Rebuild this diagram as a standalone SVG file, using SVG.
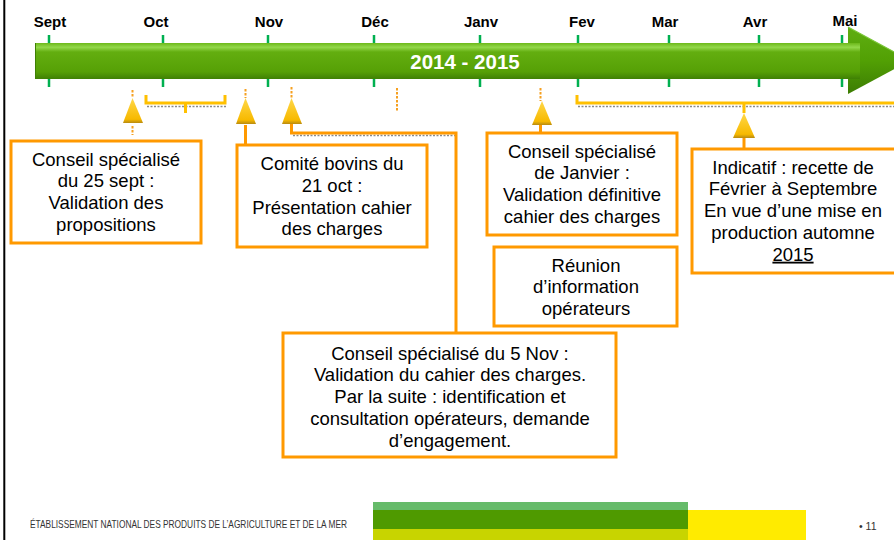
<svg xmlns="http://www.w3.org/2000/svg" width="894" height="540" viewBox="0 0 894 540">
<defs>
<linearGradient id="barG" x1="0" y1="0" x2="0" y2="1">
<stop offset="0" stop-color="#6cb81a"/>
<stop offset="0.12" stop-color="#93d84a"/>
<stop offset="0.25" stop-color="#63ae10"/>
<stop offset="0.8" stop-color="#56a006"/>
<stop offset="1" stop-color="#3f8004"/>
</linearGradient>
<linearGradient id="headG" x1="0" y1="0" x2="0" y2="1">
<stop offset="0" stop-color="#5fae12"/>
<stop offset="0.5" stop-color="#52a004"/>
<stop offset="1" stop-color="#3c7c03"/>
</linearGradient>
<linearGradient id="triG" x1="0" y1="0" x2="0" y2="1">
<stop offset="0" stop-color="#ffd84a"/>
<stop offset="0.85" stop-color="#f7b900"/>
<stop offset="1" stop-color="#b88a10"/>
</linearGradient>
<style>
.month{font-family:"Liberation Sans",Arial,sans-serif;font-weight:bold;font-size:15px;fill:#000;text-anchor:middle}
.box{fill:#fff;stroke:#ff9900;stroke-width:3}
.bt{font-family:"Liberation Sans",Arial,sans-serif;font-size:18.5px;fill:#000;text-anchor:middle}
.tick{stroke:#00b050;stroke-width:2.5}
.dot{stroke:#f5a020;stroke-width:2;stroke-dasharray:2.5 1.5;fill:none}
.conn{stroke:#ff9900;stroke-width:3;fill:none}
.brk{stroke:#ffc000;stroke-width:3;fill:none}
.shadow{stroke:#8a8a8a;stroke-width:1.5;stroke-dasharray:2 1.5;fill:none}
.tri{fill:url(#triG)}
</style>
</defs>
<rect width="894" height="540" fill="#fff"/>
<line x1="4.3" y1="0" x2="4.3" y2="540" stroke="#000" stroke-width="2"/>

<g id="timeline">
<g id="ticks">
<path class="tick" d="M49,35V43M163,35V43M268,35V43M374,35V43M480,35V43M578,35V43M669,35V43M759,35V43M842,35V43"/>
<path class="tick" d="M49,79V87M163,79V87M268,79V87M374,79V87M480,79V87M578,79V87M669,79V87M759,79V87M842,79V87"/>
</g>
<path d="M848,27L910,60.5L848,94Z" fill="url(#headG)"/>
<rect x="35" y="43" width="825" height="36" fill="url(#barG)"/>
<path d="M848,27L910,60.5" stroke="#7cc83a" stroke-width="1.2" fill="none"/>
<line x1="35.5" y1="43" x2="35.5" y2="79" stroke="#3f8004" stroke-width="1"/>
<text x="465" y="68.5" font-family="Liberation Sans,Arial,sans-serif" font-weight="bold" font-size="20.5" fill="#fff" text-anchor="middle">2014 - 2015</text>
<g id="months">
<text class="month" x="50" y="27">Sept</text>
<text class="month" x="156" y="27">Oct</text>
<text class="month" x="269" y="27">Nov</text>
<text class="month" x="375" y="27">Déc</text>
<text class="month" x="481" y="27">Janv</text>
<text class="month" x="582" y="27">Fev</text>
<text class="month" x="665" y="27">Mar</text>
<text class="month" x="755" y="27">Avr</text>
<text class="month" x="845" y="26">Mai</text>
</g>
</g>

<g id="connectors">
<path class="dot" d="M132.5,90V98M245.5,89V98M291.5,87V98M540.5,88V101M397,88V112"/>
<path class="dot" d="M132.5,126V135"/>
<path class="shadow" d="M147,106.5H226M578,106.5H894"/>
<path class="brk" d="M146,95V103H225V95M185.5,103V113"/>
<path class="brk" d="M577,95V103H896M744,103V113"/>
<path class="shadow" d="M293,135.5H457"/>
<path class="conn" d="M245.5,125V145"/>
<path class="conn" d="M291.5,123V133H456V333"/>
<path class="conn" d="M540.5,125V133"/>
<path class="conn" d="M744,138V149"/>
</g>

<g id="markers">
<polygon class="tri" points="132.5,98 123,123 143,123"/>
<polygon class="tri" points="245.5,98 236,124 256,124"/>
<polygon class="tri" points="291.5,98 282,124 302,124"/>
<polygon class="tri" points="542,101 532,125 552,125"/>
<polygon class="tri" points="744,113 733,138 755,138"/>
</g>

<g id="box1">
<rect class="box" x="11" y="141" width="190" height="102"/>
<text class="bt" x="106" y="165.5">Conseil spécialisé<tspan x="106" dy="21.8">du 25 sept :</tspan><tspan x="106" dy="21.8">Validation des</tspan><tspan x="106" dy="21.8">propositions</tspan></text>
</g>
<g id="box2">
<rect class="box" x="237" y="145" width="190" height="102"/>
<text class="bt" x="332" y="170">Comité bovins du<tspan x="332" dy="21.8">21 oct :</tspan><tspan x="332" dy="21.8">Présentation cahier</tspan><tspan x="332" dy="21.8">des charges</tspan></text>
</g>
<g id="box3">
<rect class="box" x="487" y="133" width="190" height="102"/>
<text class="bt" x="582" y="157.5">Conseil spécialisé<tspan x="582" dy="21.8">de Janvier :</tspan><tspan x="582" dy="21.8">Validation définitive</tspan><tspan x="582" dy="21.8">cahier des charges</tspan></text>
</g>
<g id="box4">
<rect class="box" x="494" y="247" width="183" height="79"/>
<text class="bt" x="586" y="271.5">Réunion<tspan x="586" dy="21.8">d’information</tspan><tspan x="586" dy="21.8">opérateurs</tspan></text>
</g>
<g id="box5">
<rect class="box" x="692" y="149" width="204" height="124"/>
<text class="bt" x="793" y="173.5">Indicatif : recette de<tspan x="793" dy="21.8">Février à Septembre</tspan><tspan x="793" dy="21.8">En vue d’une mise en</tspan><tspan x="793" dy="21.8">production automne</tspan><tspan x="793" dy="21.8" text-decoration="underline">2015</tspan></text>
</g>
<g id="box6">
<rect class="box" x="283" y="333" width="333" height="124"/>
<text class="bt" x="450" y="359.5">Conseil spécialisé du 5 Nov :<tspan x="450" dy="21.8">Validation du cahier des charges.</tspan><tspan x="450" dy="21.8">Par la suite : identification et</tspan><tspan x="450" dy="21.8">consultation opérateurs, demande</tspan><tspan x="450" dy="21.8">d’engagement.</tspan></text>
</g>

<g id="footer">
<text x="30" y="527.5" font-family="Liberation Sans,Arial,sans-serif" font-size="11" fill="#333" textLength="317" lengthAdjust="spacingAndGlyphs">ÉTABLISSEMENT NATIONAL DES PRODUITS DE L’AGRICULTURE ET DE LA MER</text>
<rect x="373" y="502" width="315" height="8" fill="#66bb6a"/>
<rect x="373" y="510" width="315" height="19" fill="#4f9a00"/>
<rect x="373" y="529" width="315" height="11" fill="#c8d400"/>
<rect x="688" y="510" width="118" height="30" fill="#ffeb00"/>
<text x="859" y="530" font-family="Liberation Sans,Arial,sans-serif" font-size="10.5" fill="#333">• 11</text>
</g>
</svg>
